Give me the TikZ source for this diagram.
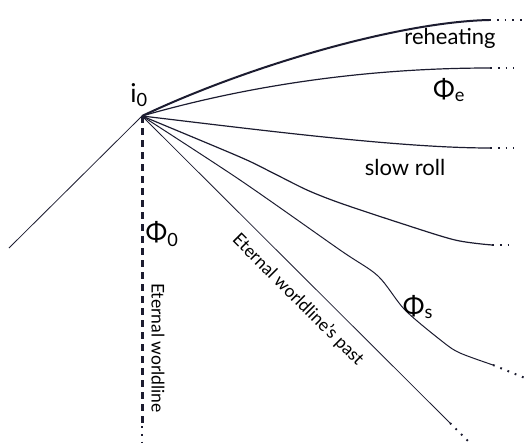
\documentclass[tikz,border=0pt]{standalone}
\usepackage{fontspec}
\setmainfont{Lato}
\definecolor{ink}{RGB}{28,28,48}
\begin{document}
\begin{tikzpicture}[x=1pt,y=-1pt,
  wl/.style={line width=1.2pt, ink},
  thin/.style={line width=0.8pt, ink},
  tail/.style={line width=2pt, ink, dash pattern=on 1.8pt off 6pt},
  lbl/.style={inner sep=0pt, font=\fontsize{22}{24}\selectfont},
  big/.style={inner sep=0pt, font=\fontsize{26}{28}\selectfont},
  small/.style={inner sep=0pt, font=\fontsize{17.5}{19}\selectfont}]
\useasboundingbox (0,0) rectangle (525,447);

\coordinate (io) at (142,116);
\coordinate (left) at (9,248);
\coordinate (reh) at (489,20);
\coordinate (phe) at (490,68);
\coordinate (slow) at (490,148);
\coordinate (mid) at (492,245);
\coordinate (phs) at (493,365);
\coordinate (past) at (450,423);
\coordinate (eter) at (142,426);

% light cone and eternal worldline
\draw[thin] (io) -- (left);
\draw[ink, line width=3pt, dash pattern=on 7pt off 5pt] (io) -- (eter);
\draw[tail] (eter) -- (142,447);

% field trajectories
\draw[ink, line width=2pt] (io) .. controls (250,65) and (400,22) .. (reh);
\draw[wl] (io) .. controls (260,82) and (380,68) .. (phe);
\draw[wl] (io) .. controls (260,130) and (400,148) .. (slow);
\draw[wl] plot[smooth] coordinates {(io) (240,157) (273,173) (307,190) (340,203) (400,223) (455,240) (mid)};
\draw[line width=1pt, ink] plot[smooth] coordinates {(io) (240,180) (340,250) (378,276) (405,310) (443,342) (460,353) (phs)};
\draw[thin] (io) -- (past);

% dots
\draw[tail] (reh) -- (522,20);
\draw[tail] (phe) -- (514,68);
\draw[tail] (slow) -- (514,148);
\draw[tail] (mid) -- (515,245);
\draw[tail] (phs) -- (525,378);
\draw[tail] (past) -- (472,445);

\node[big] (i0) at (139,95) {i\textsubscript{0}};
\node[lbl] (reheat) at (450,38) {reheating};
\node[big] (phie) at (449,90) {Φ\textsubscript{e}};
\node[lbl] (sroll) at (405,167) {slow roll};
\node[big] (phis) at (418,307) {Φ\textsubscript{s}};
\node[big] (phi0) at (162,234) {Φ\textsubscript{0}};
\node[small, rotate=-90] (ewl) at (158,348) {Eternal worldline};
\node[small, rotate=-45] (ewp) at (298,300) {Eternal worldline’s past};

\end{tikzpicture}
\end{document}
